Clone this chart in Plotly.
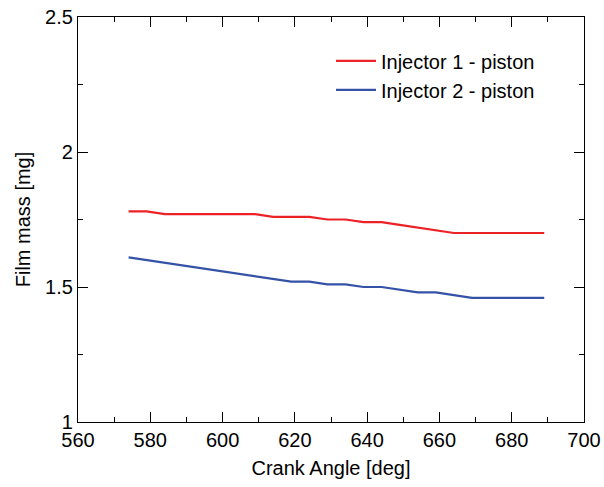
import plotly.graph_objects as go

crank_angle = [574, 579, 584, 589, 594, 599, 604, 609, 614, 619, 624, 629,
               634, 639, 644, 649, 654, 659, 664, 669, 674, 679, 684, 689]
injector1 = [1.78, 1.78, 1.77, 1.77, 1.77, 1.77, 1.77, 1.77, 1.76, 1.76, 1.76, 1.75,
             1.75, 1.74, 1.74, 1.73, 1.72, 1.71, 1.70, 1.70, 1.70, 1.70, 1.70, 1.70]
injector2 = [1.61, 1.60, 1.59, 1.58, 1.57, 1.56, 1.55, 1.54, 1.53, 1.52, 1.52, 1.51,
             1.51, 1.50, 1.50, 1.49, 1.48, 1.48, 1.47, 1.46, 1.46, 1.46, 1.46, 1.46]
series_names = ["Injector 1 - piston", "Injector 2 - piston"]
x_ticks = [560, 580, 600, 620, 640, 660, 680, 700]
y_ticks = [1, 1.5, 2, 2.5]
y_tick_text = ["1", "1.5", "2", "2.5"]

FONT = "Liberation Sans, Arial, Helvetica, sans-serif"

fig = go.Figure()
fig.add_trace(go.Scatter(x=crank_angle, y=injector1, mode="lines", name=series_names[0],
                         line=dict(color="#EC2227", width=2.2)))
fig.add_trace(go.Scatter(x=crank_angle, y=injector2, mode="lines", name=series_names[1],
                         line=dict(color="#3452A6", width=2.2)))

axis_common = dict(
    showline=True, linecolor="black", linewidth=1.3, mirror="allticks",
    ticks="inside", ticklen=10, tickwidth=1, tickcolor="black",
    showgrid=False, zeroline=False, automargin=False,
    tickfont=dict(family=FONT, size=20, color="black"),
    title_font=dict(family=FONT, size=20, color="black"),
)

fig.update_xaxes(range=[560, 700], tickvals=x_ticks,
                 minor=dict(ticks="inside", ticklen=5, dtick=10, tick0=560, tickcolor="black"),
                 title_text="Crank Angle [deg]", title_standoff=10, **axis_common)
fig.update_yaxes(range=[1, 2.5], tickvals=y_ticks, ticktext=y_tick_text,
                 minor=dict(ticks="inside", ticklen=5, dtick=0.25, tick0=1, tickcolor="black"),
                 title_text="Film mass [mg]", title_standoff=9, **axis_common)

fig.update_layout(
    width=604, height=487,
    margin=dict(l=78, r=20, t=17, b=65),
    plot_bgcolor="white", paper_bgcolor="white",
    font=dict(family=FONT, size=20, color="black"),
    showlegend=True,
    legend=dict(x=0.5, y=0.94, xanchor="left", yanchor="top",
                bgcolor="rgba(0,0,0,0)", borderwidth=0, itemwidth=40,
                font=dict(family=FONT, size=20, color="black"),
                tracegroupgap=0),
)

fig.write_html("out.html", config={"displayModeBar": False},
               post_script="document.body.style.margin='0px';document.body.style.overflow='hidden';")
